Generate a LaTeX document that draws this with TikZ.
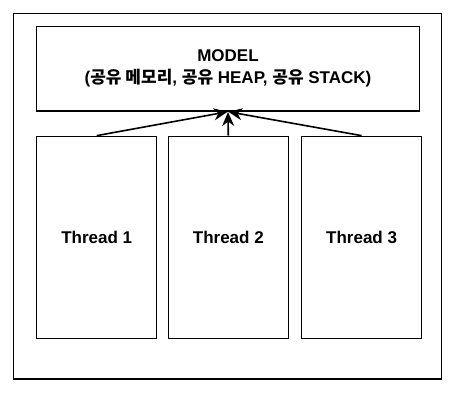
\documentclass[tikz,border=0pt]{standalone}
\usepackage{fontspec}
\setmainfont{Liberation Sans}
\newfontfamily\cjk{Noto Sans CJK KR}
\usetikzlibrary{arrows.meta}
\begin{document}
\begin{tikzpicture}[x=1pt,y=-1pt,
  box/.style={draw=black,line width=1.3pt,inner sep=0pt,fill=white},
  lbl/.style={font=\fontsize{17}{22}\selectfont\bfseries,align=center},
  arr/.style={line width=1.6pt,-{Stealth[length=14pt,width=12pt,inset=4.5pt]},shorten >=0.3pt}]
\useasboundingbox (0,0) rectangle (455,395);
\node[box,minimum width=428pt,minimum height=365.7pt] (outer) at (227.3,196.2) {};
\node[box,lbl,minimum width=382.6pt,minimum height=84.7pt] (model) at (228,68.7)
  {MODEL\\({\cjk 공유 메모리}, {\cjk 공유} HEAP, {\cjk 공유} STACK)};
\node[box,lbl,minimum width=120pt,minimum height=202pt] (t1) at (96.7,237.3) {Thread 1};
\node[box,lbl,minimum width=120pt,minimum height=202pt] (t2) at (228.3,237.3) {Thread 2};
\node[box,lbl,minimum width=120pt,minimum height=202pt] (t3) at (361.6,237.3) {Thread 3};
\draw[arr] (t1.north) -- (model.south);
\draw[arr] (t2.north) -- (model.south);
\draw[arr] (t3.north) -- (model.south);
\end{tikzpicture}
\end{document}
